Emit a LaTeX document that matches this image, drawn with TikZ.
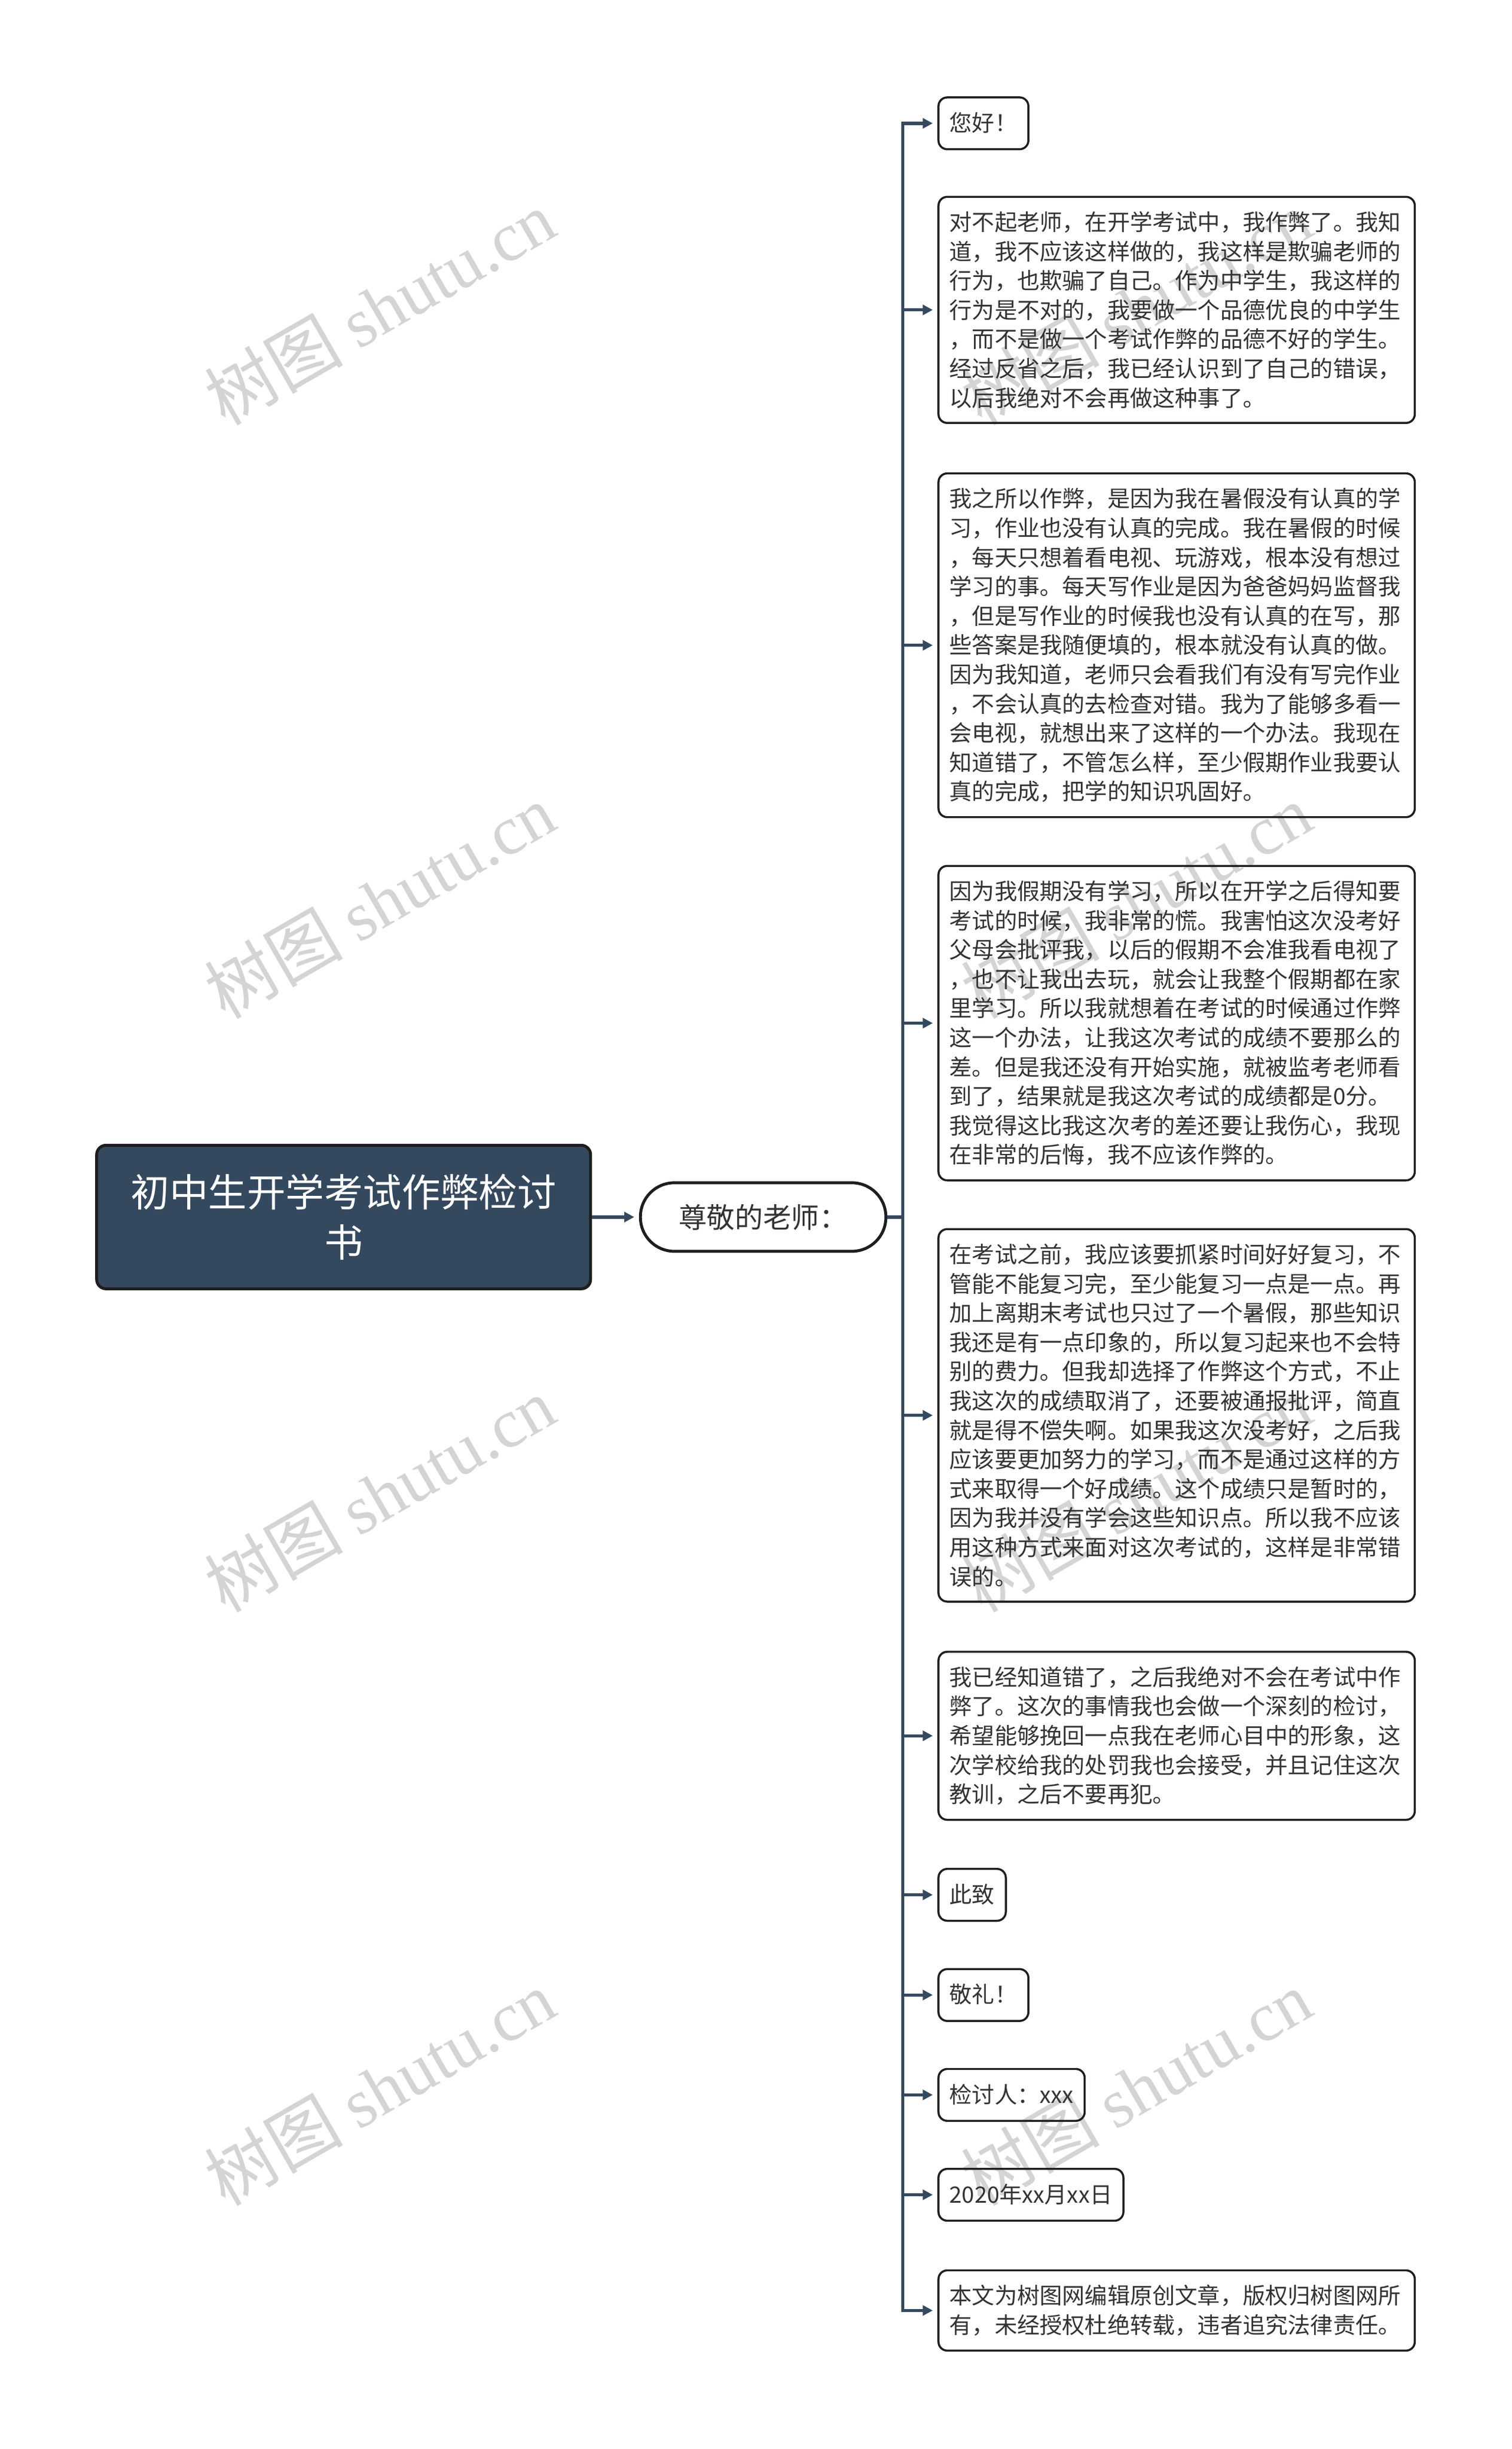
\documentclass[tikz,border=0pt]{standalone}
\usepackage{fontspec}
\setmainfont{Noto Sans CJK SC}
\newfontfamily\wmcjk{Noto Sans CJK SC}
\newfontfamily\wmlat{Liberation Serif}
\usetikzlibrary{arrows.meta}
\definecolor{navy}{HTML}{35495E}
\definecolor{txt}{HTML}{333333}
\definecolor{edgec}{HTML}{1E1E1E}
\definecolor{wmc}{HTML}{D4D4D4}
\tikzset{
  rootbox/.style={draw=edgec, line width=5pt, fill=navy, rounded corners=16pt, text=white,
    font=\fontsize{66}{85}\selectfont, align=center, minimum width=843pt, minimum height=245pt, inner sep=0pt},
  zunbox/.style={draw=edgec, line width=5pt, rounded corners=58pt, text=txt,
    font=\fontsize{48}{60}\selectfont, minimum width=419pt, minimum height=117pt, inner sep=0pt},
  leafbox/.style={draw=edgec, line width=3.5pt, rounded corners=15pt, text=txt,
    font=\fontsize{38.5}{50}\selectfont, inner xsep=19pt, inner ysep=25pt, anchor=west},
  longleaf/.style={leafbox, text width=775pt, align=left},
  shortleaf/.style={leafbox, text height=33pt, text depth=5.5pt},
  conn/.style={draw=navy, line width=5.5pt, shorten >=8pt, -{Triangle[length=17pt,width=17pt]}},
  trunkline/.style={draw=navy, line width=5.5pt},
  wmark/.style={text=wmc, rotate=30, inner sep=0pt, font=\fontsize{118}{120}\selectfont}
}
\begin{document}
\begin{tikzpicture}[x=1pt,y=-1pt]
\useasboundingbox (0,0) rectangle (2580.6,4180.5);
\fill[white] (0,0) rectangle (2580.6,4180.5);
% watermarks
\foreach \k in {0,1,2,3}{
  \node[wmark] (wl\k) at (648,525+1013*\k) {{\wmcjk 树图} {\wmlat shutu.cn}};
  \node[wmark] (wr\k) at (1939,525+1013*\k) {{\wmcjk 树图} {\wmlat shutu.cn}};
}
% main nodes
\node[rootbox] (root) at (586.5,2077.5) {初中生开学考试作弊检讨\\书};
\node[zunbox] (zun) at (1302.5,2077.5) {尊敬的老师：};
\coordinate (trunk) at (1541,2077.5);

\node[shortleaf] (c1) at (1600,210.5) {您好！};
\node[longleaf] (c2) at (1600,529) {对不起老师，在开学考试中，我作弊了。我知\\
道，我不应该这样做的，我这样是欺骗老师的\\
行为，也欺骗了自己。作为中学生，我这样的\\
行为是不对的，我要做一个品德优良的中学生\\
，而不是做一个考试作弊的品德不好的学生。\\
经过反省之后，我已经认识到了自己的错误，\\
以后我绝对不会再做这种事了。};
\node[longleaf] (c3) at (1600,1101.5) {我之所以作弊，是因为我在暑假没有认真的学\\
习，作业也没有认真的完成。我在暑假的时候\\
，每天只想着看电视、玩游戏，根本没有想过\\
学习的事。每天写作业是因为爸爸妈妈监督我\\
，但是写作业的时候我也没有认真的在写，那\\
些答案是我随便填的，根本就没有认真的做。\\
因为我知道，老师只会看我们有没有写完作业\\
，不会认真的去检查对错。我为了能够多看一\\
会电视，就想出来了这样的一个办法。我现在\\
知道错了，不管怎么样，至少假期作业我要认\\
真的完成，把学的知识巩固好。};
\node[longleaf] (c4) at (1600,1746.5) {因为我假期没有学习，所以在开学之后得知要\\
考试的时候，我非常的慌。我害怕这次没考好\\
父母会批评我，以后的假期不会准我看电视了\\
，也不让我出去玩，就会让我整个假期都在家\\
里学习。所以我就想着在考试的时候通过作弊\\
这一个办法，让我这次考试的成绩不要那么的\\
差。但是我还没有开始实施，就被监考老师看\\
到了，结果就是我这次考试的成绩都是0分。\\
我觉得这比我这次考的差还要让我伤心，我现\\
在非常的后悔，我不应该作弊的。};
\node[longleaf] (c5) at (1600,2416) {在考试之前，我应该要抓紧时间好好复习，不\\
管能不能复习完，至少能复习一点是一点。再\\
加上离期末考试也只过了一个暑假，那些知识\\
我还是有一点印象的，所以复习起来也不会特\\
别的费力。但我却选择了作弊这个方式，不止\\
我这次的成绩取消了，还要被通报批评，简直\\
就是得不偿失啊。如果我这次没考好，之后我\\
应该要更加努力的学习，而不是通过这样的方\\
式来取得一个好成绩。这个成绩只是暂时的，\\
因为我并没有学会这些知识点。所以我不应该\\
用这种方式来面对这次考试的，这样是非常错\\
误的。};
\node[longleaf] (c6) at (1600,2963) {我已经知道错了，之后我绝对不会在考试中作\\
弊了。这次的事情我也会做一个深刻的检讨，\\
希望能够挽回一点我在老师心目中的形象，这\\
次学校给我的处罚我也会接受，并且记住这次\\
教训，之后不要再犯。};
\node[shortleaf] (c7) at (1600,3234.5) {此致};
\node[shortleaf] (c8) at (1600,3405.5) {敬礼！};
\node[shortleaf] (c9) at (1600,3576) {检讨人：xxx};
\node[shortleaf] (c10) at (1600,3746.5) {2020年xx月xx日};
\node[longleaf] (c11) at (1600,3944) {本文为树图网编辑原创文章，版权归树图网所\\
有，未经授权杜绝转载，违者追究法律责任。};

% connectors
\draw[conn] (root.east) -- (zun.west);
\draw[trunkline] (zun.east) -- (trunk);
\foreach \c in {c1,c2,c3,c4,c5,c6,c7,c8,c9,c10,c11}{
  \draw[conn] (trunk) |- (\c.west);
}
\end{tikzpicture}
\end{document}
